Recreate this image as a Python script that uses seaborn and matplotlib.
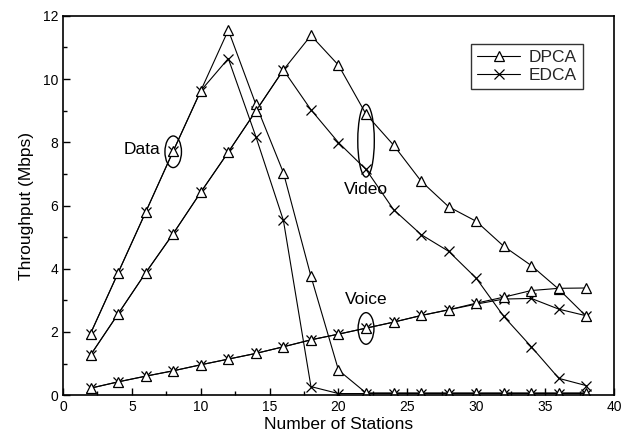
import matplotlib
matplotlib.use("Agg")
import matplotlib.pyplot as plt
from matplotlib.patches import Ellipse
from matplotlib.lines import Line2D
from matplotlib.ticker import MultipleLocator
import numpy as np
import pandas as pd
import seaborn as sns

sns.set_theme(style="white")
plt.rcParams["font.family"] = ["Liberation Sans", "DejaVu Sans"]

stations = [2, 4, 6, 8, 10, 12, 14, 16, 18, 20, 22, 24, 26, 28, 30, 32, 34, 36, 38]

data_dpca = [1.95, 3.87, 5.79, 7.72, 9.63, 11.55, 9.2, 7.04, 3.76, 0.79, 0.07,
             0.07, 0.07, 0.07, 0.07, 0.07, 0.07, 0.07, 0.07]
data_edca = [1.95, 3.87, 5.79, 7.72, 9.63, 10.65, 8.18, 5.53, 0.27, 0.05, 0.05,
             0.05, 0.05, 0.05, 0.05, 0.05, 0.05, 0.05, 0.05]
video_dpca = [1.27, 2.57, 3.87, 5.11, 6.42, 7.69, 8.99, 10.29, 11.38, 10.44, 8.89,
              7.91, 6.77, 5.96, 5.5, 4.71, 4.1, 3.35, 2.49]
video_edca = [1.27, 2.57, 3.87, 5.11, 6.42, 7.69, 8.99, 10.29, 9.03, 7.99, 7.14,
              5.87, 5.08, 4.55, 3.7, 2.49, 1.53, 0.53, 0.3]
voice_dpca = [0.22, 0.42, 0.6, 0.77, 0.96, 1.14, 1.32, 1.53, 1.75, 1.93, 2.12,
              2.31, 2.52, 2.7, 2.91, 3.1, 3.31, 3.38, 3.39]
voice_edca = [0.22, 0.42, 0.6, 0.77, 0.96, 1.14, 1.32, 1.53, 1.75, 1.93, 2.12,
              2.31, 2.52, 2.7, 2.88, 3.04, 3.06, 2.72, 2.51]

series = {
    ("Data", "DPCA"): data_dpca,
    ("Data", "EDCA"): data_edca,
    ("Video", "DPCA"): video_dpca,
    ("Video", "EDCA"): video_edca,
    ("Voice", "DPCA"): voice_dpca,
    ("Voice", "EDCA"): voice_edca,
}

frames = []
for (traffic, scheme), vals in series.items():
    frames.append(pd.DataFrame({"stations": stations, "throughput": vals,
                                "traffic": traffic, "scheme": scheme}))
df = pd.concat(frames, ignore_index=True)

fig = plt.figure(figsize=(6.34, 4.41), dpi=100)
ax = fig.add_axes([0.0994, 0.104, 0.869, 0.860])

marker_style = {
    "DPCA": dict(marker="^", markersize=7.5, markerfacecolor="white",
                 markeredgecolor="black", markeredgewidth=0.9),
    "EDCA": dict(marker="x", markersize=7, markeredgecolor="black",
                 markeredgewidth=0.9),
}

# EDCA first so the hollow triangles sit on top of the crosses
for scheme in ["EDCA", "DPCA"]:
    for traffic in ["Data", "Video", "Voice"]:
        sub = df[(df.traffic == traffic) & (df.scheme == scheme)]
        sns.lineplot(data=sub, x="stations", y="throughput", ax=ax,
                     color="black", linewidth=0.8, legend=False,
                     **marker_style[scheme])

ax.set_xlim(0, 40)
ax.set_ylim(0, 12)
ax.xaxis.set_major_locator(MultipleLocator(5))
ax.xaxis.set_minor_locator(MultipleLocator(2.5))
ax.yaxis.set_major_locator(MultipleLocator(2))
ax.yaxis.set_minor_locator(MultipleLocator(1))
ax.tick_params(which="both", direction="in", bottom=True, left=True,
               top=False, right=False, colors="black", labelsize=10)
ax.tick_params(which="major", length=5, width=1)
ax.tick_params(which="minor", length=3, width=1)
for s in ax.spines.values():
    s.set_color("black")
    s.set_linewidth(1.2)

ax.set_xlabel("Number of Stations", fontsize=12.5, color="black", labelpad=2)
ax.set_ylabel("Throughput (Mbps)", fontsize=12.5, color="black", labelpad=6)

# Group annotations
ax.add_patch(Ellipse((8.0, 7.7), 1.2, 1.0, fill=False, edgecolor="black", linewidth=1))
ax.text(7.1, 7.76, "Data", fontsize=12.5, ha="right", va="center", color="black")
ax.add_patch(Ellipse((22.0, 8.05), 1.2, 2.3, fill=False, edgecolor="black", linewidth=1))
ax.text(22.0, 6.5, "Video", fontsize=12.5, ha="center", va="center", color="black")
ax.add_patch(Ellipse((22.0, 2.11), 1.15, 1.0, fill=False, edgecolor="black", linewidth=1))
ax.text(22.0, 3.02, "Voice", fontsize=12.5, ha="center", va="center", color="black")

handles = [
    Line2D([], [], color="black", linewidth=0.8, **marker_style["DPCA"]),
    Line2D([], [], color="black", linewidth=0.8, **marker_style["EDCA"]),
]
leg = ax.legend(handles, ["DPCA", "EDCA"], loc="upper right",
                bbox_to_anchor=(0.96, 0.95), fontsize=12.5, frameon=True,
                fancybox=False, edgecolor="black", handlelength=2.5,
                handletextpad=0.5, borderpad=0.35, labelspacing=0.2)
leg.get_frame().set_linewidth(1)

fig.savefig("out.png", dpi=100, facecolor="white")
